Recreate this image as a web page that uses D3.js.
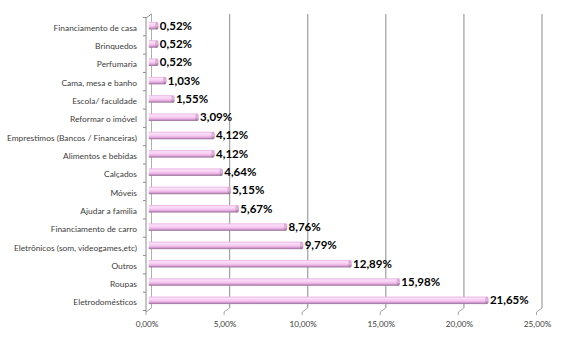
<!DOCTYPE html>
<html>
<head>
<meta charset="utf-8">
<script src="https://cdn.jsdelivr.net/npm/d3@7"></script>
<style>
  html, body { margin: 0; padding: 0; background: #fff; }
  svg { display: block; }
</style>
</head>
<body>
<svg id="chart" width="576" height="344"></svg>
<script>
// Purposes of spending, share of answers (%)
const categories = [
  "Financiamento de casa",
  "Brinquedos",
  "Perfumaria",
  "Cama, mesa e banho",
  "Escola/ faculdade",
  "Reformar o imóvel",
  "Emprestimos (Bancos / Financeiras)",
  "Alimentos e bebidas",
  "Calçados",
  "Móveis",
  "Ajudar a familia",
  "Financiamento de carro",
  "Eletrônicos (som,  videogames,etc)",
  "Outros",
  "Roupas",
  "Eletrodomésticos"
];
const values = [0.52, 0.52, 0.52, 1.03, 1.55, 3.09, 4.12, 4.12, 4.64, 5.15, 5.67, 8.76, 9.79, 12.89, 15.98, 21.65];
const xTicks = [0, 5, 10, 15, 20, 25];

const fmt = v => v.toFixed(2).replace(".", ",") + "%";

const svg = d3.select("#chart");

// front plane scales; the back wall is offset by the depth vector
const x = d3.scaleLinear().domain([0, 25]).range([146, 536.5]);
const y = d3.scaleBand().domain(categories).range([17.5, 310.5]).paddingInner(0);
const dx = 5.5, dy = -4;
const floorY = 312, topY = 18;

const defs = svg.append("defs");
const grad = defs.append("linearGradient")
  .attr("id", "cyl").attr("x1", 0).attr("y1", 0).attr("x2", 0).attr("y2", 1);
grad.selectAll("stop").data([
  [0, "#e6b0e1"], [0.22, "#fbe0f8"], [0.5, "#f6ccf1"], [0.72, "#e9ade4"], [0.86, "#b98ab6"], [1, "#9a7299"]
]).join("stop").attr("offset", d => d[0]).attr("stop-color", d => d[1]);

const capGrad = defs.append("linearGradient")
  .attr("id", "cap").attr("x1", 0).attr("y1", 0).attr("x2", 0).attr("y2", 1);
capGrad.selectAll("stop").data([
  [0, "#d9a3d4"], [0.5, "#e4b4df"], [1, "#8e688d"]
]).join("stop").attr("offset", d => d[0]).attr("stop-color", d => d[1]);

// back-wall gridlines and floor diagonals
const grid = svg.append("g");
xTicks.forEach(t => {
  const xf = x(t), xb = x(t) + dx;
  if (t > 0) {
    grid.append("line")
      .attr("x1", xb).attr("x2", xb).attr("y1", topY + dy).attr("y2", floorY + dy)
      .attr("stroke", "#a6a6a6").attr("stroke-width", 1.3);
  }
  grid.append("line")
    .attr("x1", xb).attr("y1", floorY + dy).attr("x2", xf).attr("y2", floorY)
    .attr("stroke", "#a6a6a6").attr("stroke-width", 1);
  grid.append("line")
    .attr("x1", xf).attr("y1", floorY).attr("x2", xf).attr("y2", floorY + 3)
    .attr("stroke", "#a6a6a6").attr("stroke-width", 1);
});

// left wall
grid.append("line")
  .attr("x1", x(0) + dx).attr("x2", x(0) + dx).attr("y1", topY + dy).attr("y2", floorY + dy)
  .attr("stroke", "#b0b0b0").attr("stroke-width", 1);
grid.append("path")
  .attr("d", `M${x(0)},${floorY}V${topY}L${x(0) + dx},${topY + dy}`)
  .attr("fill", "none").attr("stroke", "#8c8c8c").attr("stroke-width", 1);

// category axis ticks
const bounds = categories.map(c => y(c)).concat([y.range()[1]]);
grid.selectAll(".ctick").data(bounds).join("line")
  .attr("x1", x(0) - 3).attr("x2", x(0))
  .attr("y1", d => d).attr("y2", d => d)
  .attr("stroke", "#8c8c8c").attr("stroke-width", 1);

// category labels
svg.append("g").selectAll("text").data(categories).join("text")
  .attr("x", 137)
  .attr("y", d => y(d) + y.bandwidth() / 2 + 2)
  .attr("text-anchor", "end")
  .attr("dominant-baseline", "middle")
  .attr("font-family", "Lato, 'Open Sans', sans-serif")
  .attr("font-size", 8.4)
  .attr("fill", "#404040")
  .text(d => d);

// value axis labels
svg.append("g").selectAll("text").data(xTicks).join("text")
  .attr("x", d => x(d) + 1)
  .attr("y", 325)
  .attr("text-anchor", "middle")
  .attr("dominant-baseline", "middle")
  .attr("font-family", "Lato, 'Open Sans', sans-serif")
  .attr("font-size", 8.2)
  .attr("fill", "#404040")
  .text(d => d.toFixed(2).replace(".", ",") + "%");

// cylinder bars, drawn at mid-depth
const bh = 7.5;
const rx = 1.8;
const bars = svg.append("g").selectAll("g").data(categories).join("g");
const x0 = x(0) + dx / 2;
bars.append("rect")
  .attr("x", x0)
  .attr("y", d => y(d) + y.bandwidth() / 2 - 1 - bh / 2)
  .attr("width", (d, i) => Math.max(0, x(values[i]) + dx / 2 - x0))
  .attr("height", bh)
  .attr("fill", "url(#cyl)");
bars.append("ellipse")
  .attr("cx", (d, i) => x(values[i]) + dx / 2)
  .attr("cy", d => y(d) + y.bandwidth() / 2 - 1)
  .attr("rx", rx)
  .attr("ry", bh / 2)
  .attr("fill", "url(#cap)");

// value labels
bars.append("text")
  .attr("x", (d, i) => x(values[i]) + dx / 2 + 3)
  .attr("y", d => y(d) + y.bandwidth() / 2)
  .attr("dominant-baseline", "middle")
  .attr("font-family", "Lato, 'Open Sans', sans-serif")
  .attr("font-weight", "bold")
  .attr("font-size", 11.5)
  .attr("fill", "#000")
  .text((d, i) => fmt(values[i]));
</script>
</body>
</html>
